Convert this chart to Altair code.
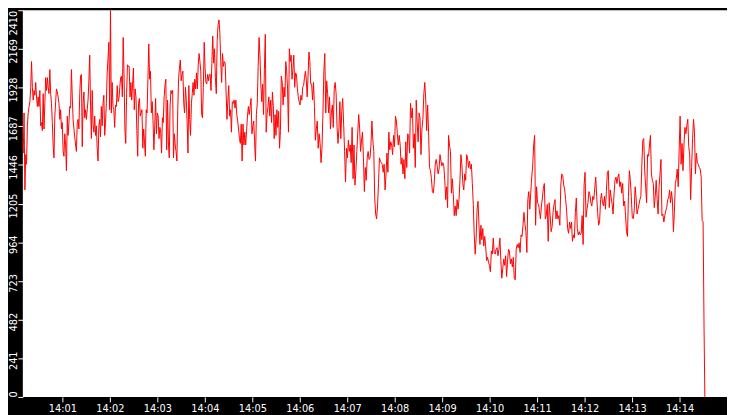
import altair as alt
import pandas as pd

# Values, in chart units, segment by segment
# (each of the first six segments spans 125 s, the seventh about 121 s).
seg1 = [1510,1680,1870,2040,2200,1790,1890,1620,1790,1570,1520,1770,1290,1510,1450,1690,1770,1810,1840,1930,
        2090,1930,1850,1910,1880,1960,1870,1810,1870,1810,1910,1690,1710,1660,1890,1670,1830,1990,1910,1990,
        1930,1890,2040,1890,1830,1710,1570,1490,1750,1840,1920,1900,1870,1830,1730,1790,1670,1710,1530,1500,
        1640,1570,1410,1750,1630,1710,1810,1800,2040,1870,1730,1670,1620,1570,1530,1710,1730,1670,1890,2000,
        2010,1560,1830,1900,1740,1790,1730,1790,1850,1970,2130,1810,1610,1910,1700,1650,1750,1630,1690,1550,
        1470,1690,1730,1620,1810,1690,1830,1880,1630,1710,1830,2020,2110,2210,1790,2410,1770,1960,1810]
seg2 = [1790,1680,1820,1810,1940,1840,1860,1930,1990,2000,1870,2240,2000,1670,1580,1890,2070,2060,2060,1870,
        1960,1850,1950,2050,1790,1920,1870,1660,1500,1830,1860,1750,1770,1790,1550,1670,1590,1500,1790,1770,
        1980,2200,1980,2030,1770,1840,1720,1540,1690,1860,1640,1770,1750,1610,1680,1650,1520,1740,1710,1870,
        1940,1980,1540,1850,1590,1490,1810,1910,1890,1910,1490,1640,1570,1530,1470,1790,1990,2050,2100,1970,
        2010,2030,1830,1770,1930,1850,1710,1520,1940,1730,1630,1830,1890,1960,1880,1980,1920,2020,1920,2070,
        2140,2090,2030,1760,1740,1930,2210,2050,1960,1950,2010,1970,2010,2010,1910,2080]
seg3 = [2250,2080,2170,1990,1890,2220,2320,2350,2270,2090,1960,2140,2060,2090,2080,1900,1730,1850,1940,1750,
        1790,1650,1840,1830,1850,1800,1850,1760,1720,1670,1610,1580,1700,1470,1700,1570,1650,1570,1660,1750,
        1810,1760,1810,1860,1640,1690,1720,1590,1470,1760,1830,2060,2240,2130,1950,1840,1950,1760,2040,2260,
        1650,1760,1810,1870,1750,1850,1710,1900,1810,1610,1760,1630,1790,1680,1780,1550,1660,2000,1960,1820,
        1930,1870,2090,2030,1920,1650,2170,2090,2130,1980,2040,2130,1930,2020,2010,1920,1870,1840,1820,1880,
        1850,1930,1940,1990,2030,1980,1870,2000,2150,2090,1950]
seg4 = [1950,1850,1960,1810,1600,1670,1720,1550,1640,1580,1460,1550,1760,2030,2140,1770,1970,1890,1770,1870,
        1670,1770,1820,1680,1920,1960,1890,1680,1580,1670,1840,1610,1780,1860,1700,1530,1340,1550,1490,1600,
        1530,1570,1460,1680,1360,1570,1320,1410,1530,1650,1760,1670,1530,1600,1650,1490,1280,1430,1350,1490,
        1530,1480,1490,1570,1720,1600,1530,1240,1140,1110,1190,1330,1490,1470,1460,1450,1400,1450,1290,1390,
        1520,1400,1650,1540,1590,1570,1510,1630,1560,1750,1720,1640,1570,1630,1570,1450,1490,1390,1480,1360,
        1590,1430,1640,1630,1520]
seg5 = [1830,1740,1800,1550,1640,1430,1850,1710,1590,1770,1740,1510,1670,1730,1890,1960,1850,1660,1820,1650,
        1430,1410,1360,1280,1270,1340,1450,1480,1440,1390,1420,1510,1470,1440,1460,1440,1350,1230,1310,1180,
        1630,1570,1530,1270,1360,1260,1130,1190,1130,1230,1170,1230,1350,1510,1450,1330,1290,1390,1350,1510,
        1490,1430,1470,1420,1450,1330,1200,1010,890,990,1170,1220,1070,950,1070,980,1050,940,1000,940,
        850,870,840,820,780,910,890,990,900,890,920,930,880,920,990,850,740,800,860,820,
        880,750,840,920]
seg6 = [910,830,860,810,870,740,730,920,950,930,960,900,1010,1000,1070,1150,1080,1030,900,1230,
        1280,1170,1270,1370,1440,1570,1630,1070,1310,1210,1200,1160,1110,1190,1240,1300,1330,1110,1130,1200,
        970,1210,1130,1030,1060,1150,1200,1230,1110,1160,1110,1130,1070,1320,1390,1380,1320,1290,1230,1160,
        1050,1020,1090,1050,1090,970,1010,990,1150,1240,1050,1010,1030,1010,1020,1130,950,1320,1400,1120,
        1170,1210,1280,1260,1210,1190,1250,1230,1300,1370,1250,1150,1070,1090,1230,1270,1210,1190,1250,1170,
        1280,1400]
seg7 = [1410,1180,1290,1240,1200,1140,1270,1350,1370,1330,1370,1390,1310,1340,1270,1330,1190,1220,1130,1030,
        1000,1250,1410,1350,1250,1120,1110,1160,1310,1240,1140,1170,1200,1230,1250,1440,1600,1610,1410,1310,
        1210,1510,1500,1570,1630,1390,1350,1330,1180,1250,1350,1230,1140,1310,1390,1480,1130,1140,1090,1130,
        1160,1180,1230,1240,1290,1210,1280,1220,1030,1150,1330,1360,1420,1310,1540,1750,1450,1580,1410,1570,
        1680,1640,1690,1730,1560,1510,1230,1430,1610,1730,1650,1390,1520,1460,1450,1430,1420,1370,1100,1090]
segments = [seg1, seg2, seg3, seg4, seg5, seg6, seg7]
seg_spans = [125, 125, 125, 125, 125, 125, 121]   # seconds covered by each segment
tail_seconds = [871, 872]
tail_values = [430, 0]

y_ticks = [0, 241, 482, 723, 964, 1205, 1446, 1687, 1928, 2169, 2410]
x_tick_minutes = list(range(1, 15))

base = pd.Timestamp("2024-01-01 14:00:00")
secs, vals = [], []
start = 0.0
for seg, span in zip(segments, seg_spans):
    n = len(seg)
    for i, v in enumerate(seg):
        secs.append(start + span * i / n)
        vals.append(v)
    start += span
secs += tail_seconds
vals += tail_values

times = [(base + pd.Timedelta(seconds=s)).strftime("%Y-%m-%dT%H:%M:%S.%f")[:-3] for s in secs]
df = pd.DataFrame({"time": times, "value": vals})

FONT = "Liberation Sans Narrow, DejaVu Sans Condensed, Liberation Sans, sans-serif"


def dt(m, s=0):
    return alt.DateTime(year=2024, month=1, date=1, hours=14, minutes=m, seconds=s)


chart = alt.Chart(df).mark_line(color="#ff0000", strokeWidth=1, clip=True).encode(
    x=alt.X(
        "time:T",
        scale=alt.Scale(domain=[dt(0, 10), dt(15)], nice=False),
        axis=alt.Axis(
            values=[dt(m) for m in x_tick_minutes],
            format="%H:%M",
            title=None,
            domain=False,
            grid=False,
            tickColor="white",
            tickSize=5,
            tickWidth=1,
            labelColor="white",
            labelFont=FONT,
            labelFontSize=11,
            labelPadding=1,
            labelFlush=False,
            labelOverlap=False,
        ),
    ),
    y=alt.Y(
        "value:Q",
        scale=alt.Scale(domain=[0, 2410], nice=False, zero=True),
        axis=alt.Axis(
            values=y_ticks,
            format="d",
            title=None,
            domain=False,
            grid=False,
            tickColor="white",
            tickSize=5,
            tickWidth=1,
            labelColor="white",
            labelFont=FONT,
            labelFontSize=11,
            labelAngle=270,
            labelAlign=alt.ExprRef(
                expr="datum.value >= 2400 ? 'right' : (datum.value == 0 ? 'left' : 'center')"
            ),
            labelBaseline="middle",
            labelOffset=alt.ExprRef(expr="datum.value >= 2400 || datum.value == 0 ? 0 : 2"),
            labelPadding=4,
            labelFlush=False,
            labelOverlap=False,
        ),
    ),
).properties(
    width=712,
    height=391,
    padding={"left": 15, "top": 0, "right": 0, "bottom": 16},
    autosize=alt.AutoSizeParams(type="none"),
).configure(
    background="black",
).configure_view(
    fill="white",
    strokeWidth=0,
)

chart.save("out.html", embed_options={"renderer": "svg", "actions": False})
